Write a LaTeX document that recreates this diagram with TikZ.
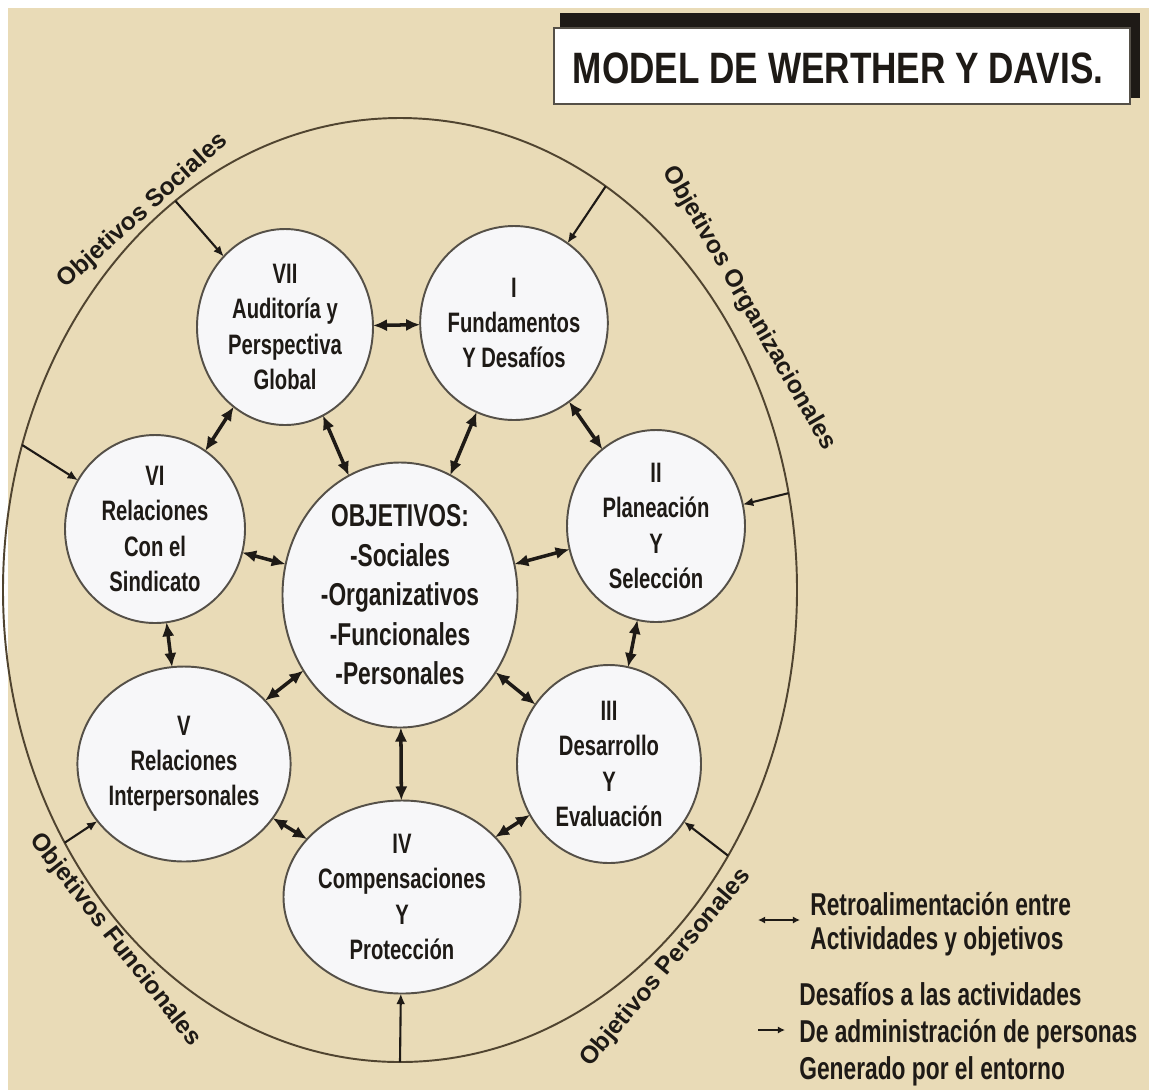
\documentclass[tikz,border=0pt]{standalone}
\usepackage{fontspec}
\setmainfont{Liberation Sans}
\newfontfamily\cond{Liberation Sans}[FakeStretch=0.72]
\newfontfamily\titlef{Liberation Sans}[FakeStretch=0.8]
\usetikzlibrary{shapes.geometric,arrows.meta}
\newlength\px
\setlength\px{0.02cm}
\definecolor{paper}{RGB}{233,219,183}
\definecolor{ink}{RGB}{30,26,22}
\definecolor{rim}{RGB}{85,80,72}
\definecolor{disc}{RGB}{247,247,249}
\definecolor{orbit}{RGB}{80,68,48}
\tikzset{
  act/.style={ellipse, draw=rim, line width=1.1pt, fill=disc, inner sep=0pt,
    outer sep=0pt, align=center, text=ink,
    font=\cond\bfseries\fontsize{16}{20}\selectfont},
  hub/.style={act, font=\cond\bfseries\fontsize{18}{22.5}\selectfont},
  fb/.style={{Latex[length=8pt,width=7pt]}-{Latex[length=8pt,width=7pt]},
    line width=2pt, draw=ink},
  chal/.style={-{Latex[length=6pt,width=5pt]}, line width=1.2pt, draw=ink},
  goal/.style={font=\bfseries\fontsize{14}{16}\selectfont, text=ink, inner sep=0pt},
  legtext/.style={font=\cond\bfseries\fontsize{18}{19.5}\selectfont, text=ink,
    align=left, inner sep=0pt, anchor=west}
}
\begin{document}
\begin{tikzpicture}[x=0.02cm, y=-0.02cm]
\useasboundingbox (0,0) rectangle (1149,1090);
% paper
\fill[white] (0,0) rectangle (1149,1090);
\fill[paper] (8,8) rectangle (1149,1090);

% title plate with dark shadow
\fill[ink] (560,13) rectangle (1140,98);
\filldraw[fill=white, draw=rim, line width=0.6pt] (554,28) rectangle (1130,104);
\node[font=\titlef\bfseries\fontsize{25}{28}\selectfont, text=ink] (title) at (838,68)
  {MODEL DE WERTHER Y DAVIS.};

% environment boundary
\node[ellipse, draw=orbit, line width=1.1pt, minimum width=794\px,
  minimum height=944\px, inner sep=0pt, outer sep=0pt] (env) at (400,590) {};

% goal labels along the boundary
\node[goal, rotate=42]  (gsoc) at (143,211) {Objetivos Sociales};
\node[goal, rotate=-60] (gorg) at (749,308) {Objetivos Organizacionales};
\node[goal, rotate=-52] (gfun) at (115,940) {Objetivos Funcionales};
\node[goal, rotate=50]  (gper) at (666,968) {Objetivos Personales};

% activities
\node[act, minimum width=176\px, minimum height=196\px] (c7) at (285,327)
  {VII\\Auditoría y\\Perspectiva\\Global};
\node[act, minimum width=172\px, minimum height=194\px] (c1) at (514,323)
  {I\\Fundamentos\\Y Desafíos};
\node[act, minimum width=180\px, minimum height=188\px] (c6) at (155,529)
  {VI\\Relaciones\\Con el\\Sindicato};
\node[hub, minimum width=235\px, minimum height=265\px] (c0) at (400,595)
  {OBJETIVOS:\\-Sociales\\-Organizativos\\-Funcionales\\-Personales};
\node[act, minimum width=178\px, minimum height=192\px] (c2) at (656,526)
  {II\\Planeación\\Y\\Selección};
\node[act, minimum width=181\px, minimum height=195\px] (c5) at (184,764)
  {V\\Relaciones\\Interpersonales};
\node[act, minimum width=184\px, minimum height=198\px] (c3) at (609,764)
  {III\\Desarrollo\\Y\\Evaluación};
\node[act, minimum width=179\px, minimum height=193\px] (c4) at (402,897)
  {IV\\Compensaciones\\Y\\Protección};

% feedback between activities and objectives
\draw[fb] (c7) -- (c1);
\draw[fb] (c7) -- (c6);
\draw[fb] (c1) -- (c2);
\draw[fb] (c6) -- (c5);
\draw[fb] (c2) -- (c3);
\draw[fb] (c5) -- (c4);
\draw[fb] (c3) -- (c4);
\draw[fb] (c7) -- (c0);
\draw[fb] (c1) -- (c0);
\draw[fb] (c6) -- (c0);
\draw[fb] (c2) -- (c0);
\draw[fb] (c5) -- (c0);
\draw[fb] (c3) -- (c0);
\draw[fb] (c4) -- (c0);

% challenges from the environment
\draw[chal] (env.120.9) -- (c7);
\draw[chal] (env.63.8)  -- (c1);
\draw[chal] (env.14.9)  -- (c2);
\draw[chal] (env.159.1) -- (c6);
\draw[chal] (env.217.3) -- (c5);
\draw[chal] (env.321.1) -- (c3);
\draw[chal] (env.270.6) -- (c4);

% legend
\coordinate (lfa) at (758,920);
\coordinate (lfb) at (800,920);
\draw[{Latex[length=4pt,width=4pt]}-{Latex[length=4pt,width=4pt]}, line width=1pt, draw=ink] (lfa) -- (lfb);
\node[legtext] (leg1) at (810,924) {Retroalimentación entre\\Actividades y objetivos};
\coordinate (lca) at (758,1030);
\coordinate (lcb) at (785,1030);
\draw[-{Latex[length=4pt,width=4pt]}, line width=1pt, draw=ink] (lca) -- (lcb);
\node[legtext, font=\cond\bfseries\fontsize{18}{21}\selectfont] (leg2) at (799,1034)
  {Desafíos a las actividades\\De administración de personas\\Generado por el entorno};
\end{tikzpicture}
\end{document}
